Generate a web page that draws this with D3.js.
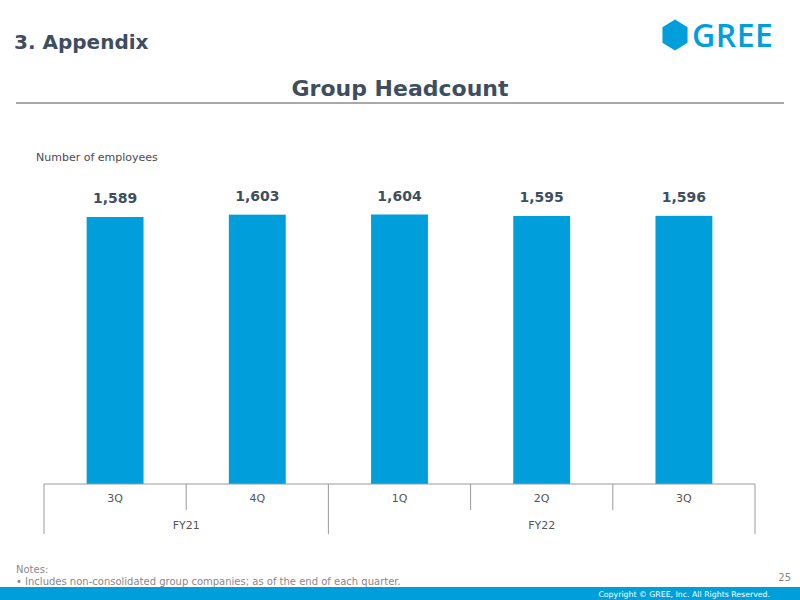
<!DOCTYPE html>
<html>
<head>
<meta charset="utf-8">
<script src="https://cdn.jsdelivr.net/npm/d3@7"></script>
<style>
  body { margin: 0; background: #fff; }
  svg { font-family: Verdana, "DejaVu Sans", sans-serif; }
</style>
</head>
<body>
<svg id="chart" width="800" height="600"></svg>
<script>
// quarters and fiscal years
const quarters = ["3Q", "4Q", "1Q", "2Q", "3Q"];
const fiscalYears = ["FY21", "FY21", "FY22", "FY22", "FY22"];
const headcount = [1589, 1603, 1604, 1595, 1596];

const blue = "#009fdb";
const dark = "#3e4e5e";

const svg = d3.select("#chart");

// header
svg.append("text").attr("x", 14).attr("y", 49)
    .attr("font-size", 20).attr("font-weight", "bold").attr("fill", dark)
    .text("3. Appendix");

svg.append("text").attr("x", 400).attr("y", 96).attr("text-anchor", "middle")
    .attr("font-size", 22).attr("font-weight", "bold").attr("fill", dark)
    .text("Group Headcount");

svg.append("line").attr("x1", 16).attr("x2", 784).attr("y1", 103).attr("y2", 103)
    .attr("stroke", "#555").attr("stroke-width", 1);

// logo
let hex = d3.range(6).map(i => {
    let a = Math.PI / 3 * i - Math.PI / 2;
    return [675 + 14.5 * Math.cos(a), 35 + 15.5 * Math.sin(a)];
});
svg.append("path").attr("d", d3.line()(hex) + "Z").attr("fill", blue);
svg.append("text").attr("x", 692).attr("y", 47)
    .attr("font-family", "'Open Sans', sans-serif")
    .attr("font-size", 32).attr("font-weight", 600).attr("fill", blue).attr("letter-spacing", 0.5)
    .text("GREE");

svg.append("text").attr("x", 36).attr("y", 161)
    .attr("font-size", 11).attr("fill", "#4a4a4a")
    .text("Number of employees");

// chart
const idx = d3.range(headcount.length);
const x = d3.scaleBand().domain(idx).range([44, 755]).paddingInner(0.6).paddingOuter(0.3);
const y = d3.scaleLinear().domain([0, 1604]).range([484, 214.5]);

svg.selectAll(".bar").data(idx).enter().append("rect")
    .attr("class", "bar")
    .attr("x", i => x(i))
    .attr("width", x.bandwidth())
    .attr("y", i => y(headcount[i]))
    .attr("height", i => y(0) - y(headcount[i]))
    .attr("fill", blue);

svg.selectAll(".val").data(idx).enter().append("text")
    .attr("class", "val")
    .attr("x", i => x(i) + x.bandwidth() / 2)
    .attr("y", i => y(headcount[i]) - 14)
    .attr("text-anchor", "middle")
    .attr("font-size", 14).attr("font-weight", "bold").attr("fill", dark)
    .text(i => d3.format(",")(headcount[i]));

// category axis
const left = 44, right = 755;
const axisCol = "#9a9a9a";
svg.append("line").attr("x1", left).attr("x2", right).attr("y1", 484).attr("y2", 484)
    .attr("stroke", axisCol);

// boundaries between quarters
d3.range(headcount.length + 1).forEach(k => {
    let bx = left + (right - left) * k / headcount.length;
    let isGroup = k === 0 || k === headcount.length || fiscalYears[k] !== fiscalYears[k - 1];
    svg.append("line").attr("x1", bx).attr("x2", bx)
        .attr("y1", 484).attr("y2", isGroup ? 534 : 510)
        .attr("stroke", axisCol);
});

svg.selectAll(".qlab").data(idx).enter().append("text")
    .attr("x", i => x(i) + x.bandwidth() / 2)
    .attr("y", 502).attr("text-anchor", "middle")
    .attr("font-size", 11).attr("fill", "#555")
    .text(i => quarters[i]);

let groups = d3.groups(idx, i => fiscalYears[i]);
groups.forEach(([fy, items]) => {
    let cx = (x(items[0]) + x(items[items.length - 1]) + x.bandwidth()) / 2;
    svg.append("text").attr("x", cx).attr("y", 529).attr("text-anchor", "middle")
        .attr("font-size", 11).attr("fill", "#555").text(fy);
});

// notes
svg.append("text").attr("x", 16).attr("y", 573).attr("font-size", 10).attr("fill", "#888")
    .text("Notes:");
svg.append("text").attr("x", 16).attr("y", 585).attr("font-size", 10).attr("fill", "#888")
    .text("• Includes non-consolidated group companies; as of the end of each quarter.");
svg.append("text").attr("x", 791).attr("y", 581).attr("text-anchor", "end")
    .attr("font-size", 10).attr("fill", "#888").text("25");

// footer
svg.append("rect").attr("x", 0).attr("y", 587).attr("width", 800).attr("height", 13).attr("fill", blue);
svg.append("text").attr("x", 770).attr("y", 597).attr("text-anchor", "end")
    .attr("font-size", 7.8).attr("fill", "#fff")
    .text("Copyright © GREE, Inc. All Rights Reserved.");
</script>
</body>
</html>
